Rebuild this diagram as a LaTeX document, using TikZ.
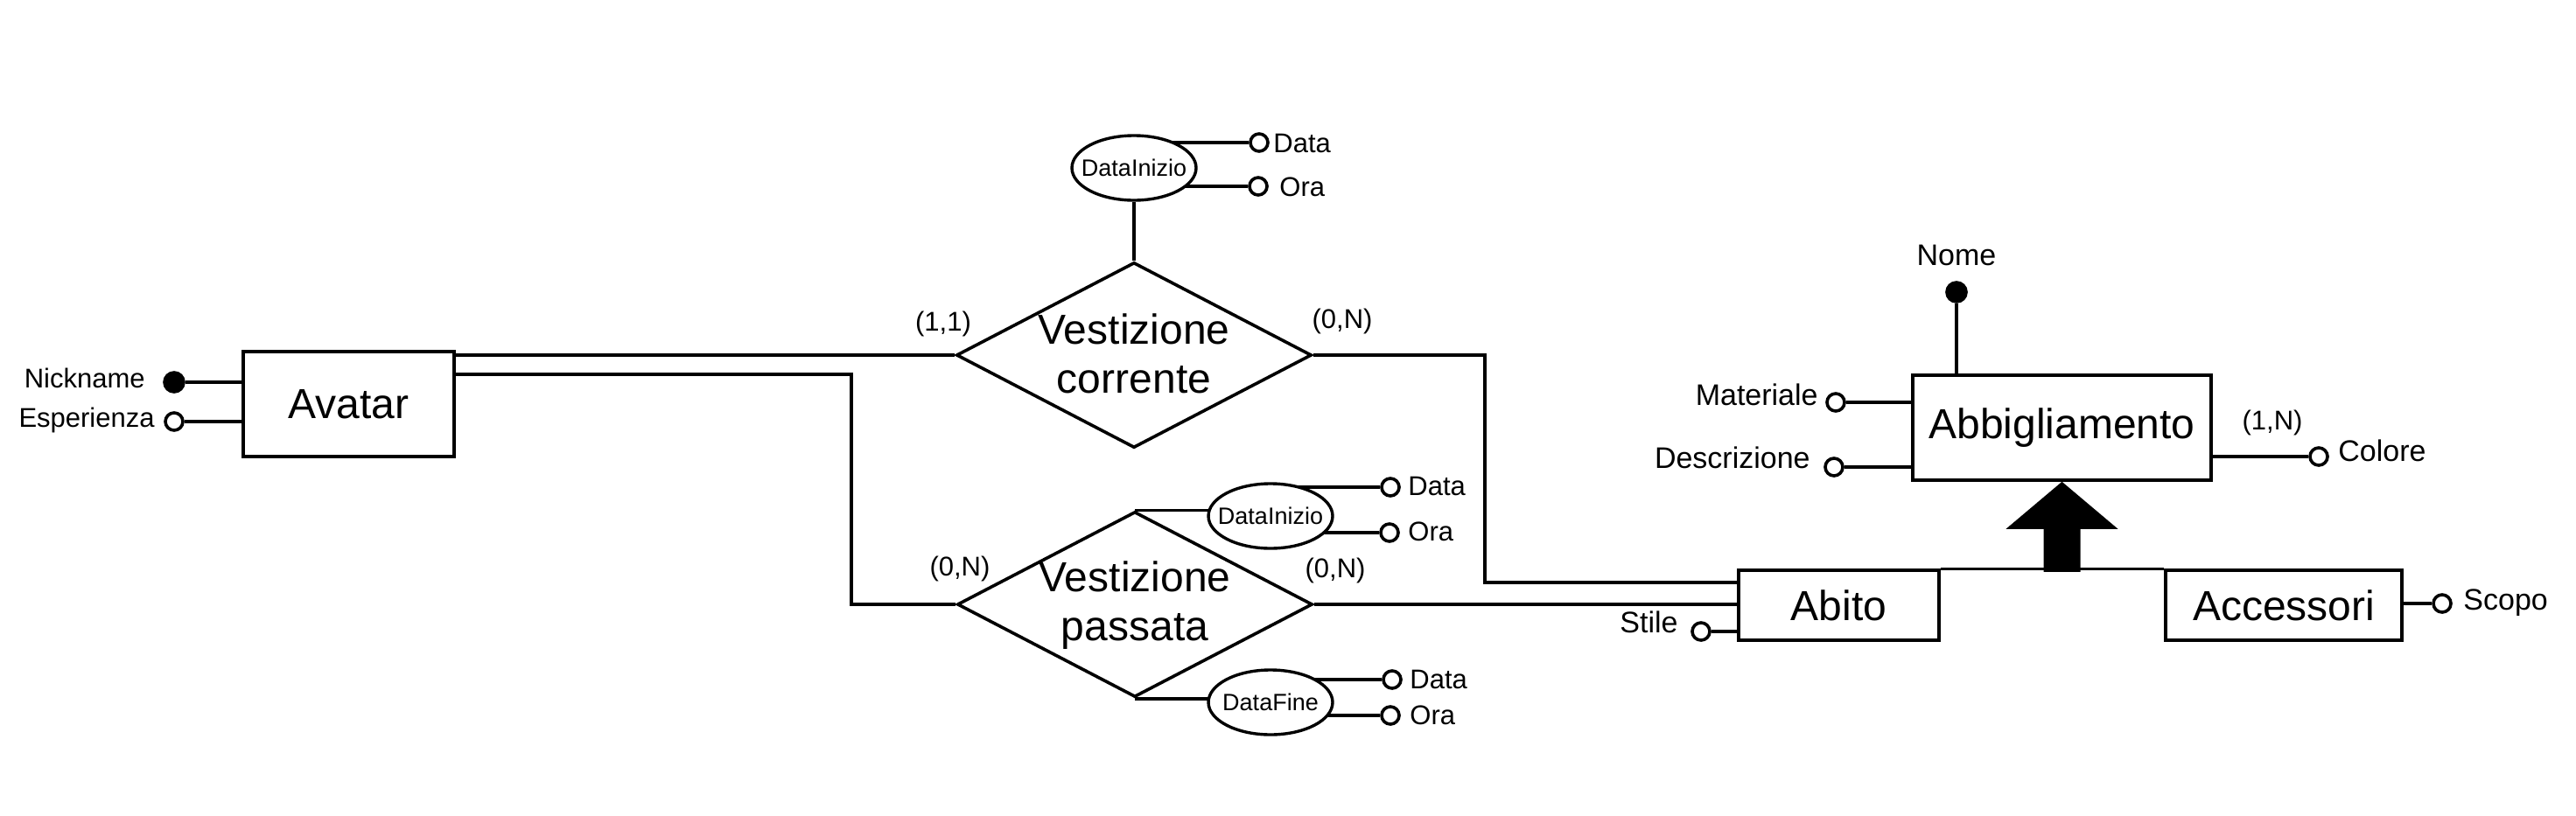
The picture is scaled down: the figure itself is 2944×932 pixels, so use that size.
\documentclass[tikz,border=0pt]{standalone}
\usepackage{fontspec}
\setmainfont{Liberation Sans}
\usetikzlibrary{shapes.geometric,backgrounds}
\begin{document}
\begin{tikzpicture}[x=0.5pt,y=-0.5pt,
  ent/.style={draw, line width=1.8pt, rectangle, inner sep=0pt, fill=white, font=\fontsize{24}{28}\selectfont},
  rel/.style={draw, line width=1.8pt, diamond, inner sep=0pt, minimum width=203pt, minimum height=106pt, fill=white},
  reltext/.style={align=center, inner sep=0pt, font=\fontsize{24}{28}\selectfont},
  comp/.style={draw, line width=1.7pt, ellipse, inner sep=0pt, minimum width=71pt, minimum height=37pt, fill=white},
  comptext/.style={inner sep=0pt, font=\fontsize{13.5}{16}\selectfont},
  attr/.style={circle, draw, line width=1.8pt, fill=white, minimum size=10pt, inner sep=0pt},
  keyattr/.style={attr, fill=black, minimum size=11pt},
  lbl/.style={inner sep=0pt, font=\fontsize{15.5}{18}\selectfont},
  lblr/.style={inner sep=0pt, font=\fontsize{17}{20}\selectfont},
  conn/.style={line width=1.7pt},
]
\useasboundingbox (0,0) rectangle (2944,932);

% entities
\node[ent, minimum width=120.5pt, minimum height=60pt] (avatar) at (398.5,462) {Avatar};
\node[ent, minimum width=170.5pt, minimum height=60pt] (abbigl) at (2356.5,489) {Abbigliamento};
\node[ent, minimum width=114.5pt, minimum height=40pt] (abito) at (2101.5,692) {Abito};
\node[ent, minimum width=135pt, minimum height=40pt] (accessori) at (2610,692) {Accessori};

% relationships
\node[rel] (vc) at (1296,406) {};
\node[reltext] (vctext) at (1296,404) {Vestizione\\corrente};
\node[rel] (vp) at (1297,691) {};
\node[reltext] (vptext) at (1297,692) {Vestizione\\passata};

% composite attributes
\node[comp] (di1) at (1296,192) {};
\node[comptext] (di1text) at (di1) {DataInizio};
\node[comp] (di2) at (1452,590) {};
\node[comptext] (di2text) at (di2) {DataInizio};
\node[comp] (df) at (1452,803) {};
\node[comptext] (dftext) at (df) {DataFine};

% attribute circles
\node[keyattr] (nick) at (199,437) {};
\node[attr] (esp) at (199,482) {};
\node[attr] (di1data) at (1439,163) {};
\node[attr] (di1ora) at (1438,213) {};
\node[attr] (di2data) at (1589,557) {};
\node[attr] (di2ora) at (1588,609) {};
\node[attr] (dfdata) at (1591,777) {};
\node[attr] (dfora) at (1589,818) {};
\node[attr] (stile) at (1944,722) {};
\node[keyattr] (nome) at (2236,334) {};
\node[attr] (mat) at (2098,460) {};
\node[attr] (descr) at (2096,534) {};
\node[attr] (colore) at (2650,522) {};
\node[attr] (scopo) at (2791,690) {};

% attribute texts
\node[lbl, anchor=base east] (nicktxt) at (166,443) {Nickname};
\node[lbl, anchor=base east] (esptxt) at (177,488) {Esperienza};
\node[lbl, anchor=base west] (di1datatxt) at (1455,174) {Data};
\node[lbl, anchor=base west] (di1oratxt) at (1462,224) {Ora};
\node[lbl, anchor=base west] (di2datatxt) at (1609,566) {Data};
\node[lbl, anchor=base west] (di2oratxt) at (1609,618) {Ora};
\node[lbl, anchor=base west] (dfdatatxt) at (1611,787) {Data};
\node[lbl, anchor=base west] (dforatxt) at (1611,828) {Ora};
\node[lblr, anchor=base] (nometxt) at (2236,303) {Nome};
\node[lblr, anchor=base east] (mattxt) at (2078,463) {Materiale};
\node[lblr, anchor=base east] (descrtxt) at (2069,535) {Descrizione};
\node[lblr, anchor=base west] (coloretxt) at (2672,527) {Colore};
\node[lblr, anchor=base west] (scopotxt) at (2815,697) {Scopo};
\node[lblr, anchor=base east] (stiletxt) at (1918,723) {Stile};

% cardinalities
\node[lbl] (c11) at (1078,370) {(1,1)};
\node[lbl] (c0n1) at (1534,367) {(0,N)};
\node[lbl] (c0n2) at (1097,650) {(0,N)};
\node[lbl] (c0n3) at (1526,652) {(0,N)};
\node[lbl] (c1n) at (2597,483) {(1,N)};

% generalization arrow
\fill (abbigl.south) -- ++(64,54) -- ++(-43,0) -- ++(0,49) -- ++(-42,0) -- ++(0,-49) -- ++(-43,0) -- cycle;

\coordinate (b1) at (973,428);
\coordinate (b3) at (1697,666);

\begin{scope}[on background layer]
\begin{scope}[conn]
\draw (nick) -- (nick -| avatar.west);
\draw (esp) -- (esp -| avatar.west);
\draw (vc.west -| avatar.east) -- (vc.west);
\draw (b1 -| avatar.east) -- (b1) |- (vp.west);
\draw (vc.east) -| (b3) -- (b3 -| abito.west);
\draw (vp.east) -- (vp.east -| abito.west);
\draw (di1) -- (vc.north);
\draw (di1data) -- (di1data -| di1.center);
\draw (di1ora) -- (di1ora -| di1.center);
\draw (vp.north) -- (vp.north -| di2.center);
\draw (di2data) -- (di2data -| di2.center);
\draw (di2ora) -- (di2ora -| di2.center);
\draw (vp.south) -- (vp.south -| df.center);
\draw (dfdata) -- (dfdata -| df.center);
\draw (dfora) -- (dfora -| df.center);
\draw (stile) -- (stile -| abito.west);
\draw (nome) -- (nome |- abbigl.north);
\draw (mat) -- (mat -| abbigl.west);
\draw (descr) -- (descr -| abbigl.west);
\draw (colore) -- (colore -| abbigl.east);
\draw (scopo) -- (scopo -| accessori.east);
\draw (abito.north east) -- (accessori.north west);
\end{scope}
\end{scope}
\end{tikzpicture}
\end{document}
